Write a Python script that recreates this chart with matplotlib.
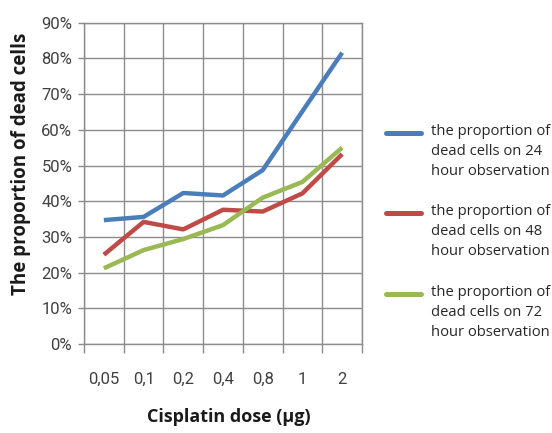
import matplotlib
matplotlib.use("Agg")
import matplotlib.pyplot as plt
import numpy as np
from matplotlib.ticker import FixedLocator, FuncFormatter
from matplotlib.lines import Line2D

categories = ["0,05", "0,1", "0,2", "0,4", "0,8", "1", "2"]
h24 = [34.7, 35.6, 42.3, 41.6, 48.7, 65.2, 81.6]
h48 = [25.0, 34.2, 32.1, 37.6, 37.1, 42.2, 53.2]
h72 = [21.2, 26.3, 29.4, 33.3, 41.0, 45.4, 55.0]
series_labels = [
    "the proportion of\ndead cells on 24\nhour observation",
    "the proportion of\ndead cells on 48\nhour observation",
    "the proportion of\ndead cells on 72\nhour observation",
]
colors = ["#4A7EBB", "#BE4B48", "#98B954"]
yticks = list(range(0, 91, 10))

W, H = 552, 433
fig = plt.figure(figsize=(W / 100, H / 100), dpi=100)
ax = fig.add_axes([84 / W, 1 - 344 / H, (362 - 84) / W, (344 - 22.7) / H])

x = np.arange(len(categories))
for vals, c, lab in zip([h24, h48, h72], colors, series_labels):
    ax.plot(x, vals, color=c, lw=3.2, label=lab, solid_capstyle="butt", solid_joinstyle="round")

grid_c = "#8C8C8C"
ax.set_xlim(-0.5, len(categories) - 0.5)
ax.set_ylim(0, 90)
ax.set_yticks(yticks)
ax.yaxis.set_major_formatter(FuncFormatter(lambda v, p: f"{int(v)}%"))
ax.set_xticks(x)
ax.set_xticklabels(categories)
ax.xaxis.set_minor_locator(FixedLocator(np.arange(-0.5, len(categories), 1.0)))
ax.grid(axis="y", which="major", color=grid_c, lw=1.0)
ax.grid(axis="x", which="minor", color=grid_c, lw=1.0)
ax.set_axisbelow(True)
for s in ax.spines.values():
    s.set_color(grid_c)
    s.set_linewidth(1.0)

tick_font = ["Roboto", "DejaVu Sans"]
ax.tick_params(axis="x", which="major", length=0, pad=20, labelsize=12, labelcolor="#404040")
ax.tick_params(axis="x", which="minor", length=6.5, color=grid_c, width=1.0)
ax.tick_params(axis="y", which="major", length=4.5, color=grid_c, width=1.0, pad=4,
               labelsize=12, labelcolor="#404040")
for lbl in ax.get_xticklabels() + ax.get_yticklabels():
    lbl.set_fontfamily(tick_font)

fig.text(21 / W, 1 - 164 / H, "The proportion of dead cells", rotation=90,
         ha="center", va="center", fontsize=13.5, fontweight="bold",
         family="Open Sans", color="#1a1a1a")
fig.text(229 / W, 1 - 417 / H, "Cisplatin dose (µg)", ha="center", va="center",
         fontsize=13, fontweight="bold", family="Open Sans", color="#1a1a1a")

# legend (handle aligned with first text line, as in the reference)
leg_y = [133, 213, 294]
for yy, c, lab in zip(leg_y, colors, series_labels):
    fig.add_artist(Line2D([386 / W, 421 / W], [1 - yy / H, 1 - yy / H],
                          transform=fig.transFigure, color=c, lw=3.6,
                          solid_capstyle="round"))
    fig.text(431 / W, 1 - (yy - 9) / H, lab, ha="left", va="top",
             fontsize=10.6, family="Open Sans", color="#262626", linespacing=1.45)

fig.savefig("out.png", dpi=100)
